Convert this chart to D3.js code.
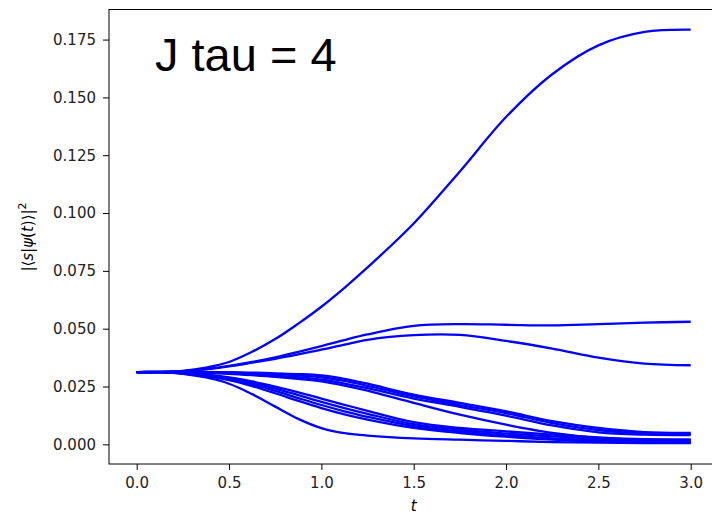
<!DOCTYPE html>
<html>
<head>
<meta charset="utf-8">
<script src="https://cdn.jsdelivr.net/npm/d3@7"></script>
<style>
  body { margin: 0; background: #fff; }
  svg { display: block; }
  .axis text { font-family: "DejaVu Sans", sans-serif; font-size: 15px; fill: #222; }
  .axis path, .axis line { stroke: #000; stroke-width: 1; }
</style>
</head>
<body>
<div id="chart"></div>
<script>
// time samples (denser early on, where the curves split)
const times = [0, 0.125, 0.25, 0.375, 0.5, 0.625, 0.75, 0.875, 1.0, 1.125, 1.25, 1.5, 1.75, 2.0, 2.25, 2.5, 2.75, 3.0];

// |<s|psi(t)>|^2 for each basis state
const rising   = [0.03125, 0.0313, 0.0318, 0.0332, 0.0356, 0.0400, 0.0455, 0.0522, 0.0595, 0.0677, 0.0765, 0.0955, 0.1180, 0.1415, 0.1600, 0.1725, 0.1783, 0.1793];
const plateauA = [0.03125, 0.0313, 0.0316, 0.0325, 0.0339, 0.0356, 0.0376, 0.0400, 0.0425, 0.0451, 0.0475, 0.0512, 0.0520, 0.0517, 0.0514, 0.0520, 0.0526, 0.0530];
const plateauB = [0.03125, 0.0313, 0.0316, 0.0325, 0.0337, 0.0353, 0.0370, 0.0389, 0.0409, 0.0431, 0.0452, 0.0472, 0.0473, 0.0447, 0.0414, 0.0375, 0.0349, 0.0342];
const slowA    = [0.03125, 0.0313, 0.0313, 0.0313, 0.0312, 0.0310, 0.0307, 0.0304, 0.0298, 0.0283, 0.0262, 0.0215, 0.0179, 0.0143, 0.0100, 0.0071, 0.0053, 0.0050];
const slowB    = [0.03125, 0.0312, 0.0312, 0.0311, 0.0310, 0.0307, 0.0303, 0.0298, 0.0290, 0.0274, 0.0253, 0.0207, 0.0170, 0.0135, 0.0092, 0.0062, 0.0047, 0.0045];
const slowC    = [0.03125, 0.0312, 0.0311, 0.0310, 0.0308, 0.0303, 0.0297, 0.0290, 0.0280, 0.0263, 0.0243, 0.0198, 0.0162, 0.0124, 0.0082, 0.0052, 0.0042, 0.0040];
const slowD    = [0.03125, 0.0312, 0.0311, 0.0309, 0.0305, 0.0299, 0.0292, 0.0283, 0.0272, 0.0254, 0.0232, 0.0179, 0.0128, 0.0085, 0.0049, 0.0028, 0.0021, 0.0020];
const fastA    = [0.03125, 0.0312, 0.0309, 0.0301, 0.0289, 0.0272, 0.0250, 0.0225, 0.0198, 0.0171, 0.0145, 0.0096, 0.0071, 0.0056, 0.0042, 0.0030, 0.0022, 0.0020];
const fastB    = [0.03125, 0.0312, 0.0308, 0.0299, 0.0286, 0.0266, 0.0241, 0.0213, 0.0184, 0.0157, 0.0132, 0.0087, 0.0063, 0.0047, 0.0034, 0.0024, 0.0017, 0.0015];
const fastC    = [0.03125, 0.0312, 0.0307, 0.0297, 0.0282, 0.0259, 0.0231, 0.0200, 0.0170, 0.0143, 0.0119, 0.0079, 0.0056, 0.0039, 0.0026, 0.0018, 0.0012, 0.0010];
const fastD    = [0.03125, 0.0312, 0.0306, 0.0295, 0.0278, 0.0252, 0.0221, 0.0188, 0.0157, 0.0130, 0.0107, 0.0071, 0.0049, 0.0033, 0.0020, 0.0012, 0.0008, 0.0007];
const fastest  = [0.03125, 0.0312, 0.0305, 0.0289, 0.0262, 0.0217, 0.0163, 0.0110, 0.0070, 0.0048, 0.0038, 0.0026, 0.0020, 0.0015, 0.0010, 0.0007, 0.0005, 0.0005];

const series = [rising, plateauA, plateauB, slowA, slowB, slowC, slowD, fastA, fastB, fastC, fastD, fastest];

const xTicks = [0, 0.5, 1.0, 1.5, 2.0, 2.5, 3.0];
const yTicks = [0, 0.025, 0.05, 0.075, 0.1, 0.125, 0.15, 0.175];

const width = 712, height = 514;
const plot = {left: 109, right: 718.4, top: 9.5, bottom: 464};

const x = d3.scaleLinear().domain([-0.15, 3.15]).range([plot.left, plot.right]);
const y = d3.scaleLinear().domain([-0.0085, 0.188]).range([plot.bottom, plot.top]);

const svg = d3.select("#chart").append("svg")
    .attr("width", width)
    .attr("height", height);

const line = d3.line()
    .x((d, i) => x(times[i]))
    .y(d => y(d))
    .curve(d3.curveCatmullRom.alpha(0.5));

svg.append("g")
  .selectAll("path")
  .data(series)
  .enter().append("path")
    .attr("d", line)
    .attr("fill", "none")
    .attr("stroke", "#0000ff")
    .attr("stroke-width", 2.3);

// frame
svg.append("rect")
    .attr("x", plot.left)
    .attr("y", plot.top)
    .attr("width", plot.right - plot.left)
    .attr("height", plot.bottom - plot.top)
    .attr("fill", "none")
    .attr("stroke", "#000")
    .attr("stroke-width", 1);

svg.append("g")
    .attr("class", "x axis")
    .attr("transform", "translate(0," + plot.bottom + ")")
    .call(d3.axisBottom(x).tickValues(xTicks).tickFormat(d3.format(".1f")).tickSizeOuter(0).tickSize(6).tickPadding(7))
    .call(g => g.select(".domain").remove());

svg.append("g")
    .attr("class", "y axis")
    .attr("transform", "translate(" + plot.left + ",0)")
    .call(d3.axisLeft(y).tickValues(yTicks).tickFormat(d3.format(".3f")).tickSizeOuter(0).tickSize(6).tickPadding(7))
    .call(g => g.select(".domain").remove());

svg.append("text")
    .attr("x", 413.7)
    .attr("y", 511)
    .attr("text-anchor", "middle")
    .attr("font-family", "DejaVu Sans, sans-serif")
    .attr("font-style", "italic")
    .attr("font-size", 15)
    .text("t");

const ylab = svg.append("text")
    .attr("transform", "translate(33,237) rotate(-90)")
    .attr("text-anchor", "middle")
    .attr("font-family", "DejaVu Sans, sans-serif")
    .attr("font-size", 15);
ylab.append("tspan").text("|⟨");
ylab.append("tspan").attr("font-style", "italic").text("s");
ylab.append("tspan").text("|");
ylab.append("tspan").attr("font-style", "italic").text("ψ");
ylab.append("tspan").text("(");
ylab.append("tspan").attr("font-style", "italic").text("t");
ylab.append("tspan").text(")⟩|");
ylab.append("tspan").attr("font-size", 11).attr("dy", -7).text("2");

svg.append("text")
    .attr("x", 155)
    .attr("y", 71)
    .attr("font-family", "Liberation Sans, Arial, sans-serif")
    .attr("font-size", 47)
    .attr("fill", "#000")
    .text("J tau = 4");
</script>
</body>
</html>
